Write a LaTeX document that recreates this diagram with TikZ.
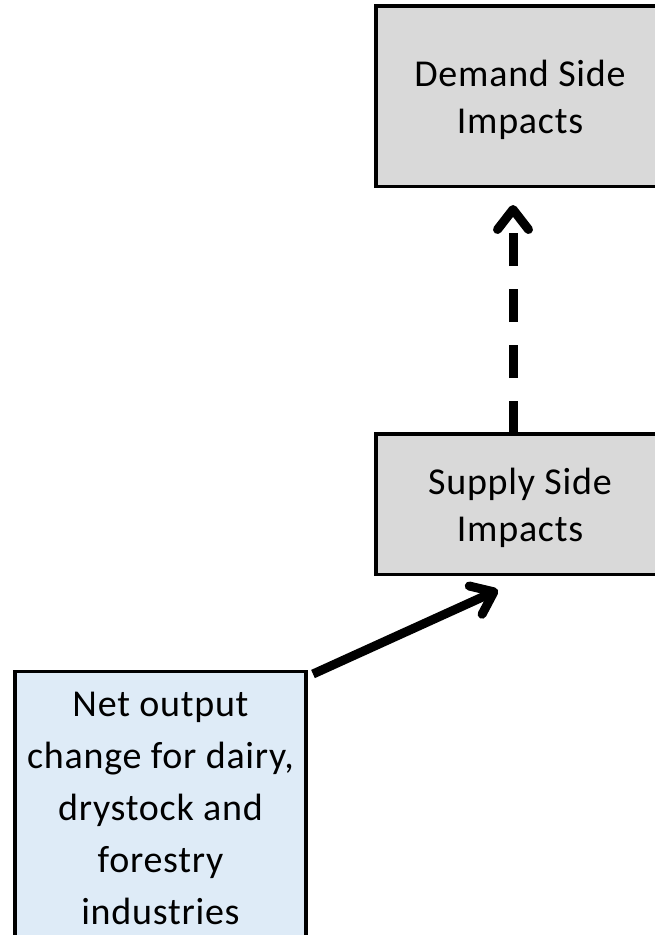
\documentclass[tikz,border=0pt]{standalone}
\usepackage{fontspec}
\setmainfont{Carlito}[LetterSpace=2]
\usetikzlibrary{arrows.meta}
\definecolor{boxgray}{HTML}{D9D9D9}
\definecolor{boxblue}{HTML}{DEEBF7}
\begin{document}
\begin{tikzpicture}[x=1pt,y=-1pt,
  box/.style={draw=black, line width=3.5pt, outer sep=0pt, inner sep=0pt, align=center, rectangle},
  graybox/.style={box, fill=boxgray, minimum width=288pt, font=\fontsize{38}{47}\selectfont},
  bluebox/.style={box, fill=boxblue, minimum width=291pt, minimum height=274pt, font=\fontsize{38}{52}\selectfont},
  conn/.style={line width=9pt, -{Straight Barb[length=20pt,width=31pt,line cap=round,line join=round]}}
]
\useasboundingbox (0,0) rectangle (655,935);
\node[graybox, minimum height=180.5pt] (dem) at (520,96.25) {\rule{0pt}{33pt}Demand Side\\Impacts};
\node[graybox, minimum height=140.5pt] (sup) at (520,504.25) {\rule{0pt}{33pt}Supply Side\\Impacts};
\node[bluebox] (net) at (160.5,808.5) {Net output\\change for dairy,\\drystock and\\forestry\\industries};
\draw[conn, dash pattern=on 33pt off 23pt] ([xshift=-7pt]sup.north) -- ([shift={(-7,18.5)}]dem.south);
\draw[conn] ([shift={(7,2.5)}]net.north east) -- ([shift={(-22,15.5)}]sup.south);
\end{tikzpicture}
\end{document}
